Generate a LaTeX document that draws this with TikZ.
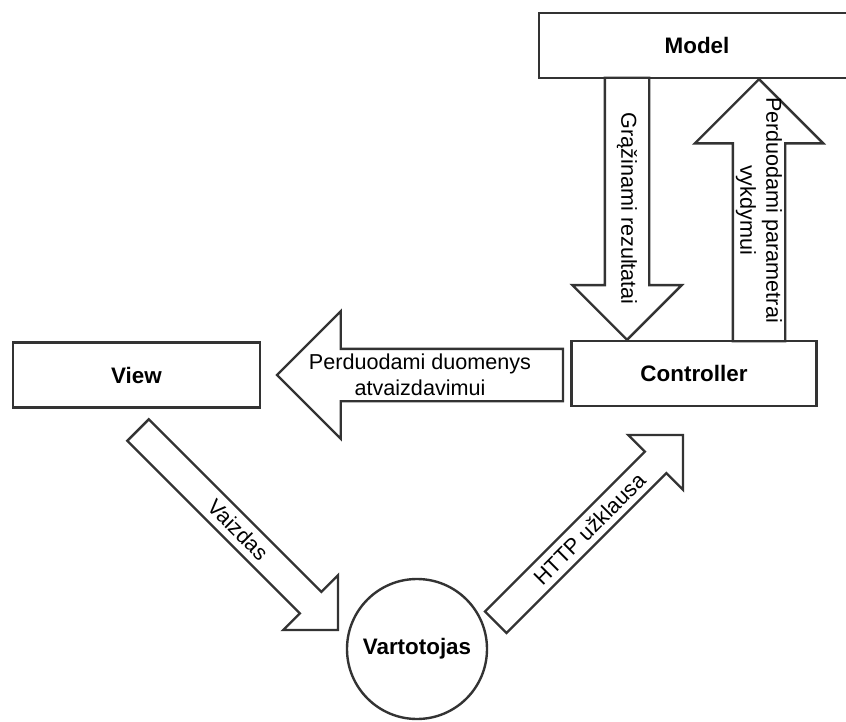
\documentclass[tikz,border=0pt]{standalone}
\usepackage{fontspec}
\setmainfont{Liberation Sans}
\usetikzlibrary{shapes.arrows,calc}

\begin{document}
\begin{tikzpicture}[x=0.5pt, y=-0.5pt,
    %Options for boxes and block arrows
    line width=1.2pt,
    part/.style={draw=black!80, rectangle, minimum height=32.5pt,
        font=\fontsize{11.2}{13}\selectfont\bfseries},
    user/.style={draw=black!80, circle, minimum size=70pt, inner sep=0pt,
        font=\fontsize{11.2}{13}\selectfont\bfseries},
    flow/.style={draw=black!80, single arrow, single arrow tip angle=90,
        inner xsep=0pt, inner ysep=#1, outer sep=0pt, anchor=tip},
    flowtext/.style={font=\fontsize{10.8}{13}\selectfont, align=center, inner sep=0pt},
]
    \useasboundingbox (0,0) rectangle (846,722);

    % MVC parts and the user
    \node[part, minimum width=158pt]   (model) at (697,45.5)  {Model};
    \node[part, minimum width=123.5pt] (view)  at (136.5,375) {View};
    \node[part, minimum width=122.5pt] (ctrl)  at (694,373.5) {Controller};
    \node[user] (user) at (417,649) {Vartotojas};

    % Model -> Controller
    \node[flow=10.5pt, rotate=-90, minimum height=131pt,
        single arrow head extend=16.25pt] (ret) at (ctrl.north -| 627,0) {};
    \node[flowtext, rotate=-90] (rettext) at ($(ret.tail)!.5!(ret.tip)$)
        {Grąžinami rezultatai};

    % Controller -> Model
    \node[flow=12.5pt, rotate=-90, shape border rotate=180, minimum height=131pt,
        single arrow head extend=19pt] (par) at (model.south -| 759,0) {};
    \node[flowtext, rotate=-90] (partext) at ($(par.tail)!.5!(par.tip)$)
        {Perduodami parametrai\\vykdymui};

    % Controller -> View
    \node[flow=12.5pt, shape border rotate=180, minimum height=143pt,
        single arrow head extend=18.75pt] (dat) at (277,375) {};
    \node[flowtext] (dattext) at ($(dat.tail)!.5!(dat.tip)$)
        {Perduodami duomenys\\atvaizdavimui};

    % View -> user
    \node[flow=7pt, rotate=-45, minimum height=141.4pt,
        single arrow head extend=11.75pt] (vz) at (338,630) {};
    \node[flowtext, rotate=-45] (vztext) at ($(vz.tail)!.5!(vz.tip)$) {Vaizdas};

    % user -> Controller
    \node[flow=7pt, rotate=45, minimum height=132.4pt,
        single arrow head extend=11.75pt] (http) at (683,435) {};
    \node[flowtext, rotate=45] (httptext) at ($(http.tail)!.5!(http.tip)$) {HTTP užklausa};
\end{tikzpicture}
\end{document}
